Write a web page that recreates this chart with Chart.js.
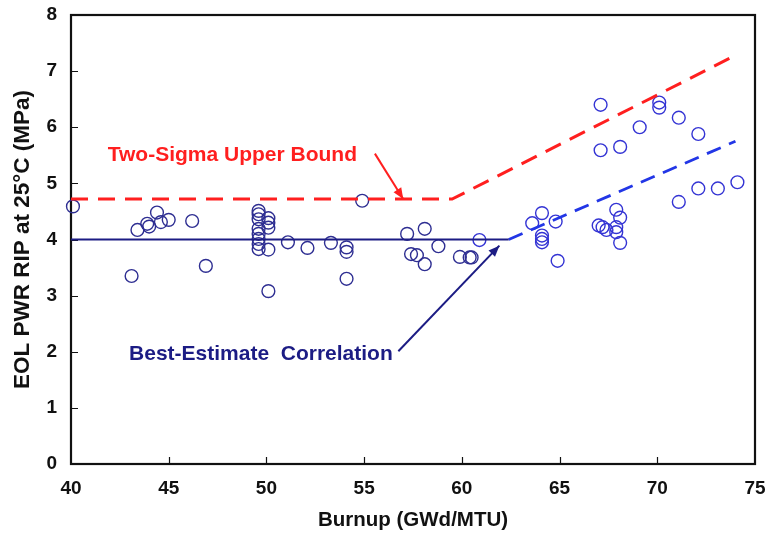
<!DOCTYPE html>
<html>
<head>
<meta charset="utf-8">
<script src="https://cdn.jsdelivr.net/npm/chart.js@4.4.1/dist/chart.umd.min.js"></script>
<style>
html, body { margin: 0; padding: 0; background: #fff; }
</style>
</head>
<body>
<canvas id="chart" width="766" height="536"></canvas>
<script>
// measured points, older rods (navy) and higher burnup rods (blue)
const burnupA = [40.1, 43.1, 43.4, 43.9, 44.0, 44.4, 44.6, 45.0, 46.2, 46.9,
  49.6, 49.6, 49.6, 49.6, 49.6, 49.6, 49.6, 49.6,
  50.1, 50.1, 50.1, 50.1, 50.1,
  51.1, 52.1, 53.3, 54.1, 54.1, 54.1, 54.9,
  57.2, 58.1, 57.4, 57.7, 58.1, 58.8, 59.9, 60.4, 60.5];
const ripA = [4.59, 3.35, 4.17, 4.28, 4.23, 4.48, 4.31, 4.35, 4.33, 3.53,
  4.51, 4.45, 4.36, 4.19, 4.10, 4.01, 3.92, 3.83,
  4.38, 4.30, 4.21, 3.82, 3.08,
  3.95, 3.85, 3.94, 3.86, 3.78, 3.30, 4.69,
  4.10, 4.19, 3.74, 3.72, 3.56, 3.88, 3.69, 3.68, 3.68];

const burnupB = [60.9, 63.6, 64.1, 64.1, 64.1, 64.1, 64.8, 64.9,
  67.1, 67.1, 68.1, 67.0, 67.2, 67.4, 67.9, 68.1, 67.9, 67.9, 68.1,
  69.1, 70.1, 70.1, 71.1, 72.1, 71.1, 72.1, 73.1, 74.1];
const ripB = [3.99, 4.29, 4.47, 4.07, 4.01, 3.95, 4.32, 3.62,
  6.40, 5.59, 5.65, 4.25, 4.22, 4.17, 4.53, 4.39, 4.13, 4.22, 3.94,
  6.00, 6.44, 6.35, 6.17, 5.88, 4.67, 4.91, 4.91, 5.02];

// correlation lines
const bestFlatX = [40, 62.4];
const bestFlatY = [4.0, 4.0];
const bestRiseX = [62.4, 74.0];
const bestRiseY = [4.0, 5.75];
const upperX = [40, 59.5, 74.1];
const upperY = [4.72, 4.72, 7.30];

// callouts
const redArrowX = [55.55, 57.0];
const redArrowY = [5.53, 4.72];
const blueArrowX = [56.75, 61.92];
const blueArrowY = [2.01, 3.89];
const labelText = ['Two-Sigma Upper Bound', 'Best-Estimate  Correlation'];
const labelX = [41.88, 42.97];
const labelY = [5.51, 1.95];

const xTicks = [40, 45, 50, 55, 60, 65, 70, 75];
const yTicks = [0, 1, 2, 3, 4, 5, 6, 7, 8];

const RED = '#ff1f1f';
const NAVY = '#1c1c84';
const BLUE = '#2236e6';
const FONT = 'Arial, "Liberation Sans", Helvetica, sans-serif';

function pts(xs, ys) {
    return xs.map((x, i) => ({ x: x, y: ys[i] }));
}

function lineSet(xs, ys, color, width, dash, arrow) {
    return {
        type: 'line',
        data: pts(xs, ys),
        borderColor: color,
        backgroundColor: color,
        borderWidth: width,
        borderDash: dash || [],
        pointRadius: 0,
        showLine: true,
        fill: false,
        tension: 0,
        clip: false,
        arrowHead: !!arrow
    };
}

// plot frame + inward tick marks
const frameAndTicks = {
    id: 'frameAndTicks',
    beforeDatasetsDraw(chart) {
        const { ctx, chartArea: a, scales } = chart;
        ctx.save();
        ctx.strokeStyle = '#111';
        ctx.lineWidth = 2.2;
        ctx.strokeRect(a.left, a.top, a.right - a.left, a.bottom - a.top);
        ctx.lineWidth = 1.2;
        ctx.beginPath();
        xTicks.slice(1, -1).forEach(v => {
            const px = Math.round(scales.x.getPixelForValue(v)) + 0.5;
            ctx.moveTo(px, a.bottom);
            ctx.lineTo(px, a.bottom - 7);
        });
        yTicks.slice(1, -1).forEach(v => {
            const py = Math.round(scales.y.getPixelForValue(v)) + 0.5;
            ctx.moveTo(a.left, py);
            ctx.lineTo(a.left + 7, py);
        });
        ctx.stroke();
        ctx.restore();
    }
};

// arrow heads and callout text
const callouts = {
    id: 'callouts',
    afterDatasetsDraw(chart) {
        const { ctx, scales } = chart;
        ctx.save();
        chart.data.datasets.forEach((ds, i) => {
            if (!ds.arrowHead) return;
            const el = chart.getDatasetMeta(i).data;
            const p0 = el[el.length - 2], p1 = el[el.length - 1];
            const ang = Math.atan2(p1.y - p0.y, p1.x - p0.x);
            const len = 11, half = 4.5;
            ctx.fillStyle = ds.borderColor;
            ctx.beginPath();
            ctx.moveTo(p1.x, p1.y);
            ctx.lineTo(p1.x - len * Math.cos(ang) + half * Math.sin(ang), p1.y - len * Math.sin(ang) - half * Math.cos(ang));
            ctx.lineTo(p1.x - len * Math.cos(ang) - half * Math.sin(ang), p1.y - len * Math.sin(ang) + half * Math.cos(ang));
            ctx.closePath();
            ctx.fill();
        });
        ctx.font = 'bold 21px ' + FONT;
        ctx.textBaseline = 'middle';
        ctx.textAlign = 'left';
        const colors = [RED, NAVY];
        labelText.forEach((t, i) => {
            ctx.fillStyle = colors[i];
            ctx.fillText(t, scales.x.getPixelForValue(labelX[i]), scales.y.getPixelForValue(labelY[i]));
        });
        ctx.restore();
    }
};

const ctx = document.getElementById('chart').getContext('2d');
new Chart(ctx, {
    type: 'scatter',
    data: {
        datasets: [
            lineSet(upperX, upperY, RED, 3, [17, 10]),
            lineSet(bestFlatX, bestFlatY, NAVY, 2.2),
            lineSet(bestRiseX, bestRiseY, BLUE, 2.8, [15, 9]),
            lineSet(redArrowX, redArrowY, RED, 2, [], true),
            lineSet(blueArrowX, blueArrowY, NAVY, 2, [], true),
            {
                data: pts(burnupA, ripA),
                pointStyle: 'circle',
                pointRadius: 6.4,
                borderColor: '#2e2e92',
                borderWidth: 1.4,
                backgroundColor: 'rgba(0,0,0,0)',
                clip: false
            },
            {
                data: pts(burnupB, ripB),
                pointStyle: 'circle',
                pointRadius: 6.4,
                borderColor: '#3434d4',
                borderWidth: 1.4,
                backgroundColor: 'rgba(0,0,0,0)',
                clip: false
            }
        ]
    },
    options: {
        responsive: false,
        animation: false,
        layout: { padding: { top: 15, right: 11, left: 0, bottom: 0 } },
        plugins: { legend: { display: false }, tooltip: { enabled: false } },
        scales: {
            x: {
                type: 'linear',
                min: 40,
                max: 75,
                afterFit: s => { s.height = 72; s.paddingLeft = 0; s.paddingRight = 0; },
                afterBuildTicks: s => { s.ticks = xTicks.map(v => ({ value: v })); },
                grid: { display: false, drawTicks: false },
                border: { display: false },
                ticks: { color: '#111', padding: 13, maxRotation: 0, font: { family: FONT, size: 19, weight: 'bold' } },
                title: {
                    display: true,
                    text: 'Burnup (GWd/MTU)',
                    color: '#111',
                    padding: { top: 0, bottom: 3 },
                    font: { family: FONT, size: 20.5, weight: 'bold' }
                }
            },
            y: {
                type: 'linear',
                min: 0,
                max: 8,
                afterFit: s => { s.width = 71; s.paddingTop = 0; s.paddingBottom = 0; },
                afterBuildTicks: s => { s.ticks = yTicks.map(v => ({ value: v })); },
                grid: { display: false, drawTicks: false },
                border: { display: false },
                ticks: { color: '#111', padding: 14, font: { family: FONT, size: 19, weight: 'bold' } },
                title: {
                    display: true,
                    text: 'EOL PWR RIP at 25°C (MPa)',
                    color: '#111',
                    padding: { top: 9.5, bottom: 0 },
                    font: { family: FONT, size: 22.5, weight: 'bold' }
                }
            }
        }
    },
    plugins: [frameAndTicks, callouts]
});
</script>
</body>
</html>
